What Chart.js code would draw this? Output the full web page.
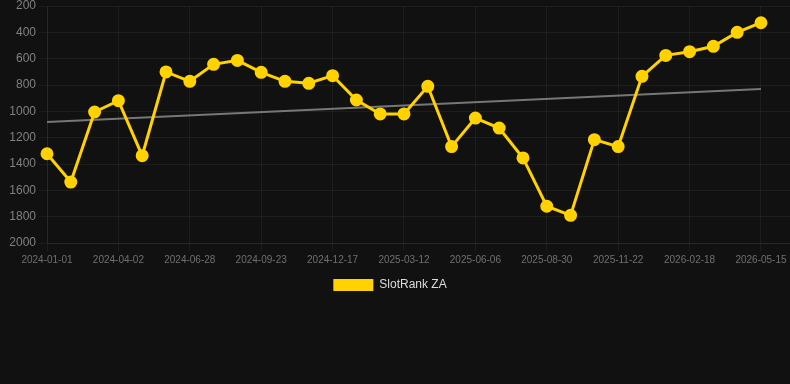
<!DOCTYPE html>
<html>
<head>
<meta charset="utf-8">
<script src="https://cdn.jsdelivr.net/npm/chart.js@4"></script>
<style>
  html, body { margin: 0; padding: 0; background: #111111; }
  #wrap { width: 790px; height: 301px; }
</style>
</head>
<body>
<div id="wrap"><canvas id="rankChart"></canvas></div>
<script>
// Dates of each ranking sample
const dates = [
  '2024-01-01', '2024-01-31', '2024-03-02', '2024-04-02', '2024-05-01', '2024-05-30',
  '2024-06-28', '2024-07-27', '2024-08-25', '2024-09-23', '2024-10-21', '2024-11-19',
  '2024-12-17', '2025-01-14', '2025-02-11', '2025-03-12', '2025-04-09', '2025-05-08',
  '2025-06-06', '2025-07-04', '2025-08-01', '2025-08-30', '2025-09-27', '2025-10-25',
  '2025-11-22', '2025-12-22', '2026-01-20', '2026-02-18', '2026-03-19', '2026-04-16',
  '2026-05-15'
];

// Rank values (lower is better)
const rankValues = [
  1322, 1537, 1005, 919, 1337, 701,
  772, 643, 613, 704, 772, 787,
  729, 914, 1020, 1020, 810, 1268,
  1051, 1127, 1354, 1721, 1790, 1215,
  1268, 734, 575, 547, 506, 400,
  327
];

// Trend line end values
const trendStart = 1081;
const trendEnd = 830;

const yTicks = [200, 400, 600, 800, 1000, 1200, 1400, 1600, 1800, 2000];

const rankPoints = rankValues.map((v, i) => ({ x: i, y: v }));
const trendPoints = [
  { x: 0, y: trendStart },
  { x: dates.length - 1, y: trendEnd }
];

// nudge legend a little to the left, like the original
const legendShift = {
  id: 'legendShift',
  afterLayout(chart) {
    chart.legend.left -= 5;
    chart.legend.right -= 5;
  }
};

const ctx = document.getElementById('rankChart').getContext('2d');
new Chart(ctx, {
  type: 'line',
  data: {
    datasets: [
      {
        label: 'SlotRank ZA',
        data: rankPoints,
        borderColor: '#ffd200',
        backgroundColor: '#ffd200',
        borderWidth: 3,
        pointRadius: 5,
        pointHoverRadius: 6,
        pointBackgroundColor: '#ffd200',
        pointBorderColor: '#ffd200',
        tension: 0,
        clip: false,
        order: 1
      },
      {
        label: 'Trend',
        data: trendPoints,
        borderColor: '#777777',
        borderWidth: 2,
        pointRadius: 0,
        fill: false,
        order: 2
      }
    ]
  },
  plugins: [legendShift],
  options: {
    responsive: true,
    maintainAspectRatio: false,
    animation: false,
    layout: { autoPadding: false },
    plugins: {
      legend: {
        position: 'bottom',
        labels: {
          color: '#dddddd',
          boxWidth: 40,
          boxHeight: 12,
          font: { size: 12 },
          generateLabels: (chart) => {
            const items = Chart.defaults.plugins.legend.labels.generateLabels(chart);
            return items
              .filter((item) => item.text !== 'Trend')
              .map((item) => Object.assign(item, { lineWidth: 0 }));
          }
        }
      },
      tooltip: { enabled: false }
    },
    scales: {
      x: {
        type: 'linear',
        min: 0,
        max: 31.22,
        afterFit: (scale) => { scale.paddingRight = 0; },
        grid: { color: 'rgba(255,255,255,0.05)' },
        border: { color: 'rgba(255,255,255,0.05)' },
        ticks: {
          stepSize: 3,
          includeBounds: false,
          color: '#707070',
          font: { size: 10 },
          maxRotation: 0,
          autoSkip: false,
          callback: (value) => Number.isInteger(value) ? dates[value] : ''
        }
      },
      y: {
        reverse: true,
        min: yTicks[0],
        max: yTicks[yTicks.length - 1],
        afterFit: (scale) => { scale.width = 47; scale.paddingTop = 6; },
        grid: { color: 'rgba(255,255,255,0.05)' },
        border: { color: 'rgba(255,255,255,0.05)' },
        ticks: {
          stepSize: 200,
          color: '#808080',
          font: { size: 12 },
          callback: (value) => String(value)
        }
      }
    }
  }
});
</script>
</body>
</html>
